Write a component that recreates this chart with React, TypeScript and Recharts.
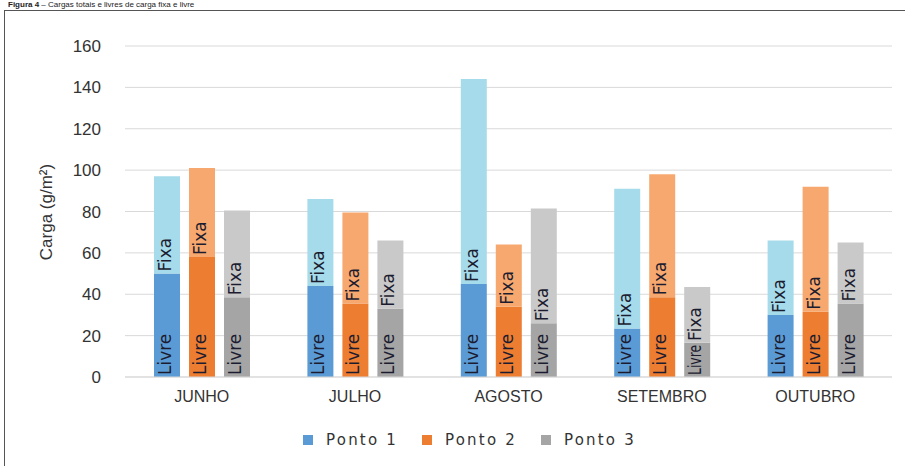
import React from 'react';
import { BarChart, Bar, XAxis, YAxis, CartesianGrid, LabelList } from 'recharts';

const months = ['JUNHO', 'JULHO', 'AGOSTO', 'SETEMBRO', 'OUTUBRO'];
const yTicks = [0, 20, 40, 60, 80, 100, 120, 140, 160];

// livre = parte de baixo, fixa = diferença até o topo da barra
const p1Livre = [50, 44, 45, 23.5, 30];
const p1Fixa = [47, 42, 99, 67.5, 36];
const p2Livre = [58, 35.5, 34, 38.5, 31.5];
const p2Fixa = [43, 44, 30, 59.5, 60.5];
const p3Livre = [38.5, 33, 26, 16.5, 35.5];
const p3Fixa = [42, 33, 55.5, 27, 29.5];

const pontos = ['Ponto 1', 'Ponto 2', 'Ponto 3'];
const darkColors = ['#5b9bd5', '#ed7d31', '#a5a5a5'];
const lightColors = ['#a5dbea', '#f7a86e', '#c9c9c9'];

const data = months.map((m, i) => ({
  mes: m,
  p1l: p1Livre[i], p1f: p1Fixa[i],
  p2l: p2Livre[i], p2f: p2Fixa[i],
  p3l: p3Livre[i], p3f: p3Fixa[i],
}));

const FONT_SIZE = 17;
const makeLabel = (word: string, natural: number) => (props: any) => {
  const { x, y, width, height } = props;
  const cx = Number(x) + Number(width) / 2 + 4;
  const by = Number(y) + Number(height) - 2;
  const avail = Number(height) - 4;
  const squeeze = natural > avail;
  return (
    <text
      x={cx}
      y={by}
      transform={`rotate(-90 ${cx} ${by})`}
      textAnchor="start"
      fontFamily="DejaVu Sans"
      fontSize={FONT_SIZE}
      fill="#1c1c30"
      {...(squeeze ? { textLength: avail, lengthAdjust: 'spacingAndGlyphs' } : {})}
    >
      {word}
    </text>
  );
};

const livreLabel = makeLabel('Livre', 41.7);
const fixaLabel = makeLabel('Fixa', 34);

const YLabel = () => (
  <text
    x={52}
    y={212}
    transform="rotate(-90 52 212)"
    textAnchor="middle"
    fontFamily="Liberation Sans"
    fontSize={17}
    fill="#333"
  >
    Carga (g/m²)
  </text>
);

export default function App() {
  return (
    <div style={{ position: 'absolute', left: 0, top: 0, width: 905, height: 466, overflow: 'hidden', background: '#fff' }}>
      <div
        style={{
          position: 'absolute', left: 8, top: 0, fontFamily: 'Liberation Sans', fontSize: 8,
          color: '#222', whiteSpace: 'nowrap', lineHeight: '9px',
        }}
      >
        <b>Figura 4</b> – Cargas totais e livres de carga fixa e livre
      </div>
      <div
        style={{
          position: 'absolute', left: 4, top: 10, width: 920, height: 480,
          border: '1.5px solid #555', boxSizing: 'border-box',
        }}
      />
      <div style={{ position: 'absolute', left: 0, top: 0 }}>
        <BarChart
          width={905}
          height={466}
          data={data}
          margin={{ top: 46, right: 13, bottom: 59, left: 0 }}
          barSize={26}
          barGap={9}
        >
          <CartesianGrid vertical={false} stroke="#d9d9d9" />
          <XAxis
            dataKey="mes"
            height={30}
            axisLine={{ stroke: '#d9d9d9' }}
            tickLine={false}
            tickSize={0}
            tickMargin={14}
            tick={{ fontFamily: 'Liberation Sans', fontSize: 16, fill: '#333' }}
          />
          <YAxis
            width={125}
            domain={[0, 160]}
            ticks={yTicks}
            axisLine={false}
            tickLine={false}
            tickSize={0}
            tickMargin={24}
            tick={{ fontFamily: 'Liberation Sans', fontSize: 17, fill: '#333' }}
            label={<YLabel />}
          />
          {[1, 2, 3].map((n, k) => [
            <Bar key={`l${n}`} dataKey={`p${n}l`} stackId={`p${n}`} fill={darkColors[k]} isAnimationActive={false}>
              <LabelList dataKey={`p${n}l`} content={livreLabel} />
            </Bar>,
            <Bar key={`f${n}`} dataKey={`p${n}f`} stackId={`p${n}`} fill={lightColors[k]} isAnimationActive={false}>
              <LabelList dataKey={`p${n}f`} content={fixaLabel} />
            </Bar>,
          ])}
        </BarChart>
      </div>
      <div
        style={{
          position: 'absolute', top: 430, left: 0, width: 905, display: 'flex', justifyContent: 'center',
          fontFamily: 'DejaVu Sans', fontSize: 15, color: '#333', letterSpacing: 2.2, paddingLeft: 34,
          boxSizing: 'border-box',
        }}
      >
        {pontos.map((p, k) => (
          <div key={p} style={{ display: 'flex', alignItems: 'center', margin: '0 12px' }}>
            <span style={{ width: 10, height: 10, background: darkColors[k], marginRight: 13, display: 'inline-block' }} />
            <span style={{ lineHeight: '20px' }}>{p}</span>
          </div>
        ))}
      </div>
    </div>
  );
}
